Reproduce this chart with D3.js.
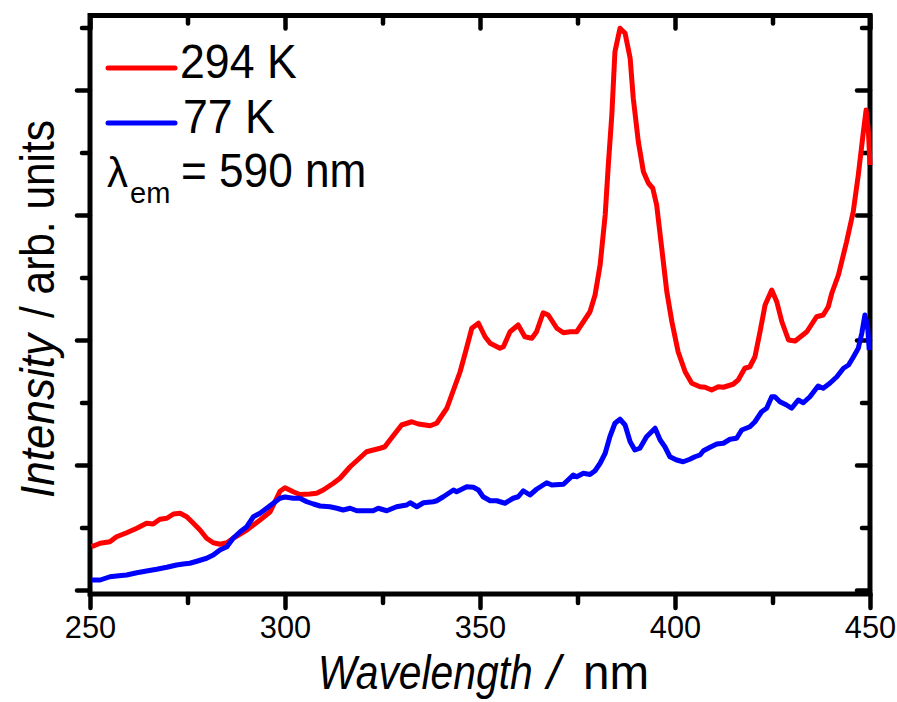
<!DOCTYPE html>
<html>
<head>
<meta charset="utf-8">
<script src="https://cdn.jsdelivr.net/npm/d3@7"></script>
<style>
  html, body { margin: 0; padding: 0; background: #fff; }
  svg { display: block; }
  text { font-family: "Liberation Sans", Arial, sans-serif; fill: #000; }
</style>
</head>
<body>
<svg id="chart" width="897" height="702"></svg>
<script>
// Excitation spectra (λem = 590 nm) at two temperatures: [wavelength nm, intensity a.u.]
const spectrum294K = [
  [250.4,3.46],[252.6,3.74],[255.1,3.86],[256.8,4.26],[259.4,4.58],[262.0,4.94],[264.5,5.34],[266.2,5.28],
  [267.9,5.66],[269.7,5.74],[271.4,6.08],[273.1,6.14],[274.8,5.86],[276.5,5.34],[278.2,4.80],[279.9,4.14],
  [281.6,3.78],[283.3,3.66],[285.1,3.78],[286.7,4.14],[290.2,4.80],[293.6,5.60],[296.2,6.26],[298.7,7.9],
  [300.0,8.18],[302.1,7.86],[303.8,7.64],[306.4,7.68],[308.1,7.74],[309.8,8.0],[312.4,8.54],[314.1,8.94],
  [316.7,9.86],[318.4,10.34],[320.9,11.06],[324.4,11.34],[325.6,11.46],[326.9,12.0],[329.9,13.2],[332.5,13.46],
  [334.2,13.28],[337.2,13.14],[338.9,13.34],[341.5,14.54],[343.2,16.0],[344.9,17.46],[346.2,18.94],[347.9,20.94],
  [349.6,21.34],[351.3,20.26],[352.6,19.74],[355.1,19.34],[356.0,19.46],[357.7,20.66],[359.8,21.2],[361.5,20.26],
  [363.3,20.14],[364.5,20.66],[366.2,22.18],[367.5,22.0],[369.7,20.94],[371.4,20.58],[373.1,20.66],[374.8,20.66],
  [376.5,21.46],[378.2,22.26],[379.5,23.6],[380.8,26.0],[382.1,30.0],[382.9,34.0],[383.8,38.0],[384.6,43.06],
  [385.9,44.94],[387.2,44.54],[388.5,42.54],[389.3,39.34],[390.6,35.86],[391.9,33.46],[393.2,32.54],[394.3,32.14],
  [395.3,30.8],[396.6,27.34],[397.9,23.86],[399.2,21.46],[400.8,19.06],[402.6,17.46],[404.3,16.54],[406.4,16.26],
  [407.7,16.22],[409.4,16.0],[411.1,16.26],[412.4,16.22],[414.9,16.46],[416.2,16.8],[417.9,17.74],[419.2,17.86],
  [420.5,18.66],[421.8,20.66],[423.1,22.8],[424.8,24.0],[426.1,23.06],[427.4,21.46],[429.1,20.0],[430.8,19.92],
  [433.8,20.66],[436.3,21.86],[438.0,22.0],[439.3,22.66],[440.2,23.74],[441.9,25.2],[444.0,27.86],[445.7,30.26],
  [447.0,33.2],[448.3,36.66],[449.0,38.4],[449.6,36.66],[450.0,34.0]
];

const spectrum77K = [
  [250.4,0.8],[252.6,0.8],[255.1,1.06],[256.8,1.12],[259.4,1.2],[262.0,1.38],[264.5,1.52],[267.1,1.66],
  [269.7,1.82],[272.2,2.0],[273.9,2.08],[275.6,2.14],[277.4,2.3],[279.9,2.54],[281.6,2.8],[283.3,3.2],
  [285.1,3.46],[286.7,4.14],[288.5,4.66],[290.2,5.06],[291.9,5.86],[293.6,6.14],[295.3,6.54],[297.0,6.94],
  [298.7,7.34],[300.0,7.44],[302.1,7.34],[303.8,7.34],[305.6,7.06],[307.3,6.88],[309.0,6.72],[311.5,6.66],
  [313.3,6.54],[314.9,6.4],[316.7,6.54],[318.4,6.34],[320.9,6.34],[322.6,6.34],[323.9,6.54],[326.1,6.34],
  [328.6,6.66],[331.2,6.8],[332.1,6.98],[333.8,6.66],[335.5,6.98],[338.0,7.06],[338.9,7.14],[340.6,7.46],
  [343.2,8.0],[344.0,7.86],[346.6,8.26],[348.3,8.22],[349.6,8.0],[350.8,7.46],[352.6,7.14],[354.3,7.14],
  [356.4,6.94],[358.5,7.34],[359.8,7.46],[361.1,7.94],[362.8,7.6],[364.5,8.06],[367.1,8.58],[368.4,8.4],
  [371.4,8.46],[373.1,8.96],[373.9,9.2],[374.8,9.06],[376.5,9.34],[378.2,9.24],[379.5,9.54],[380.8,10.14],
  [382.1,10.94],[383.3,12.26],[384.6,13.34],[385.9,13.66],[387.2,13.2],[388.5,11.86],[389.7,11.2],[391.0,11.34],
  [392.7,12.26],[394.9,12.94],[396.2,12.0],[397.4,11.46],[398.7,10.66],[400.4,10.4],[402.1,10.26],[403.8,10.46],
  [405.1,10.66],[406.4,10.8],[407.3,11.14],[409.0,11.42],[410.7,11.68],[412.4,11.74],[414.1,12.06],[415.8,12.14],
  [417.1,12.8],[419.2,13.06],[420.5,13.46],[422.2,14.26],[423.5,14.54],[424.8,15.46],[425.6,15.46],[426.9,15.06],
  [428.6,14.8],[429.9,14.54],[431.6,15.2],[432.9,14.98],[434.6,15.46],[436.7,16.32],[438.0,16.14],[439.7,16.54],
  [441.5,17.06],[443.2,17.74],[444.5,18.0],[445.7,18.62],[447.0,19.34],[447.9,20.54],[448.7,22.0],[449.4,21.06],
  [449.8,19.2]
];

const xMajorTicks = [250, 300, 350, 400, 450];
const xMinorTicks = [275, 325, 375, 425];
const yMajorTicks = [0, 10, 20, 30, 40];
const yMinorTicks = [5, 15, 25, 35, 45];
const xDomain = [250, 450];
const yDomain = [-0.32, 45.96];

const seriesLabels = ["294 K", "77 K"];
const seriesColors = ["#ff0000", "#0000ff"];

// ---- layout ----
const svg = d3.select("#chart");
const plotL = 90, plotR = 870, plotT = 15.5, plotB = 594;
const fontFamily = '"Liberation Sans", Arial, sans-serif';

const x = d3.scaleLinear().domain(xDomain).range([plotL, plotR]);
const y = d3.scaleLinear().domain(yDomain).range([plotB, plotT]);

svg.append("rect").attr("width", 897).attr("height", 702).attr("fill", "#fff");

// squeeze wide text horizontally, keeping its anchor
function condense(sel, k) {
  sel.each(function () {
    const len = this.getComputedTextLength();
    d3.select(this).attr("textLength", len * k).attr("lengthAdjust", "spacingAndGlyphs");
  });
}

// text placed at (px, py) and scaled horizontally by k
function narrowText(parent, px, py, k, size, str, italic) {
  return parent.append("text")
    .attr("transform", `translate(${px},${py}) scale(${k},1)`)
    .style("font-size", size + "px")
    .style("font-style", italic ? "italic" : "normal")
    .text(str);
}

function styleTicks(g, width) {
  g.select(".domain").remove();
  g.selectAll(".tick line").attr("stroke", "#000").attr("stroke-width", width).attr("stroke-linecap", "round");
}

// bottom axis: major with labels, minor without
const gxB = svg.append("g").attr("transform", `translate(0,${plotB})`)
  .call(d3.axisBottom(x).tickValues(xMajorTicks).tickSize(14).tickFormat(d3.format("d")));
styleTicks(gxB, 4.5);
gxB.selectAll(".tick text")
  .attr("y", 44).attr("dy", null)
  .style("font-size", "32px").style("font-family", fontFamily).attr("fill", "#000")
  .call(condense, 0.96);
svg.append("g").attr("transform", `translate(0,${plotB})`)
  .call(d3.axisBottom(x).tickValues(xMinorTicks).tickSize(9).tickFormat(""))
  .call(g => styleTicks(g, 4.5));

// top axis: ticks pointing into the plot
svg.append("g").attr("transform", `translate(0,${plotT})`)
  .call(d3.axisTop(x).tickValues(xMajorTicks).tickSizeInner(-13).tickSizeOuter(0).tickFormat(""))
  .call(g => styleTicks(g, 4.5));
svg.append("g").attr("transform", `translate(0,${plotT})`)
  .call(d3.axisTop(x).tickValues(xMinorTicks).tickSizeInner(-8).tickSizeOuter(0).tickFormat(""))
  .call(g => styleTicks(g, 4.5));

// left axis: outward ticks, no labels
svg.append("g").attr("transform", `translate(${plotL},0)`)
  .call(d3.axisLeft(y).tickValues(yMajorTicks).tickSize(13).tickFormat(""))
  .call(g => styleTicks(g, 4.5));
svg.append("g").attr("transform", `translate(${plotL},0)`)
  .call(d3.axisLeft(y).tickValues(yMinorTicks).tickSize(8).tickFormat(""))
  .call(g => styleTicks(g, 4.5));

// right axis: ticks pointing into the plot
svg.append("g").attr("transform", `translate(${plotR},0)`)
  .call(d3.axisRight(y).tickValues(yMajorTicks).tickSizeInner(-13).tickSizeOuter(0).tickFormat(""))
  .call(g => styleTicks(g, 4.5));
svg.append("g").attr("transform", `translate(${plotR},0)`)
  .call(d3.axisRight(y).tickValues(yMinorTicks).tickSizeInner(-8).tickSizeOuter(0).tickFormat(""))
  .call(g => styleTicks(g, 4.5));

// plot frame
svg.append("rect")
  .attr("x", plotL).attr("y", plotT)
  .attr("width", plotR - plotL).attr("height", plotB - plotT)
  .attr("fill", "none").attr("stroke", "#000").attr("stroke-width", 5);

// spectra
const line = d3.line().x(d => x(d[0])).y(d => y(d[1]));
[spectrum294K, spectrum77K].forEach((data, i) => {
  svg.append("path")
    .datum(data)
    .attr("d", line)
    .attr("fill", "none")
    .attr("stroke", seriesColors[i])
    .attr("stroke-width", 5)
    .attr("stroke-linejoin", "round");
});

// axis titles: italic quantity, upright unit
narrowText(svg, 318, 689, 0.85, 48, "Wavelength", true);
narrowText(svg, 547, 689, 1, 48, "/", true);
narrowText(svg, 583, 689, 0.99, 48, "nm", false);

const yTitle = svg.append("g").attr("transform", "translate(54,0) rotate(-90)");
yTitle.append("text")
  .attr("x", -498).attr("y", 0)
  .style("font-size", "48px").style("font-style", "italic")
  .attr("textLength", 164).attr("lengthAdjust", "spacingAndGlyphs")
  .text("Intensity");
yTitle.append("text")
  .attr("x", -318).attr("y", 0)
  .style("font-size", "48px")
  .attr("textLength", 198).attr("lengthAdjust", "spacingAndGlyphs")
  .text("/ arb. units");

// legend
const legendRows = [68, 123];
const legendTextX = [180, 183];
const legendBase = [78, 133];
seriesLabels.forEach((label, i) => {
  svg.append("line")
    .attr("x1", 108).attr("x2", 175)
    .attr("y1", legendRows[i]).attr("y2", legendRows[i])
    .attr("stroke", seriesColors[i]).attr("stroke-width", 5).attr("stroke-linecap", "round");
  svg.append("text")
    .attr("x", legendTextX[i]).attr("y", legendBase[i])
    .style("font-size", "48px")
    .text(label)
    .call(condense, 0.93);
});

// emission wavelength note
svg.append("text").attr("x", 107).attr("y", 187).style("font-size", "42px").text("λ");
svg.append("text").attr("x", 130).attr("y", 203).style("font-size", "29px").text("em");
svg.append("text").attr("x", 181).attr("y", 187).style("font-size", "48px")
  .text("= 590 nm").call(condense, 0.92);
</script>
</body>
</html>
